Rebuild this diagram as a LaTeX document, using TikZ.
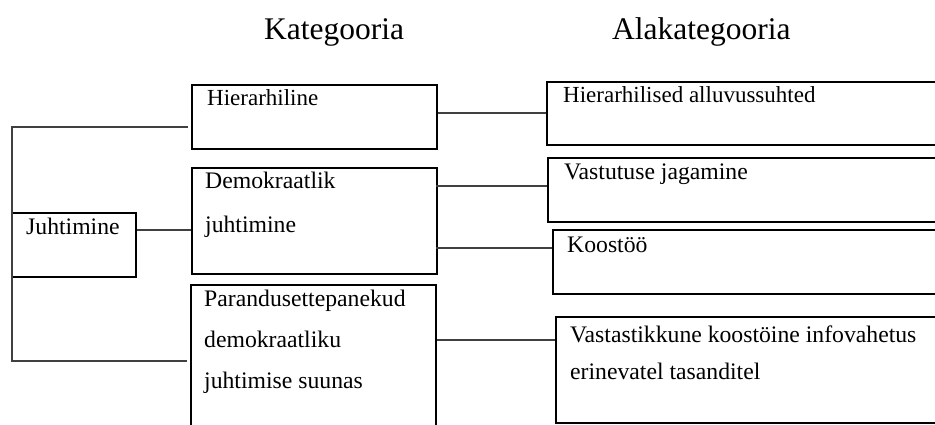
\documentclass[tikz,border=0pt]{standalone}
\usepackage{fontspec}
\setmainfont{Liberation Serif}
\begin{document}
\begin{tikzpicture}[x=1pt,y=-1pt,
  box/.style={draw=black,line width=1.8pt,rectangle,inner sep=0pt,anchor=north west},
  link/.style={draw=black!75,line width=1.2pt},
  head/.style={anchor=base west,inner sep=0pt,font=\fontsize{31.5}{36}\selectfont},
  txt/.style={anchor=base west,inner sep=0pt,font=\fontsize{23.7}{27}\selectfont},
  smalltxt/.style={txt,font=\fontsize{23}{26}\selectfont}]
\useasboundingbox (0,0) rectangle (935,425);
\clip (0,0) rectangle (935,425);

% column headings
\node[head] (hcat) at (264,40) {Kategooria};
\node[head] (hsub) at (612,40) {Alakategooria};

% root
\node[box,minimum width=124pt,minimum height=64pt] (juht) at (11,212) {};
\node[txt] (tjuht) at (26,234) {Juhtimine};

% categories
\node[box,minimum width=245pt,minimum height=64pt] (hier) at (191,84) {};
\node[smalltxt] (thier) at (207,106) {Hierarhiline};

\node[box,minimum width=245pt,minimum height=106pt] (demo) at (191,167) {};
\node[txt] (tdemo1) at (205,189) {Demokraatlik};
\node[txt] (tdemo2) at (205,233) {juhtimine};

\node[box,minimum width=245pt,minimum height=200pt] (paran) at (190,284) {};
\node[txt] (tpar1) at (204,306) {Parandusettepanekud};
\node[txt] (tpar2) at (204,347) {demokraatliku};
\node[txt] (tpar3) at (204,388) {juhtimise suunas};

% subcategories
\node[box,minimum width=420pt,minimum height=63pt] (hieral) at (546,81) {};
\node[smalltxt] (thieral) at (563,103) {Hierarhilised alluvussuhted};

\node[box,minimum width=420pt,minimum height=64pt] (vast) at (547,157) {};
\node[txt] (tvast) at (564,179) {Vastutuse jagamine};

\node[box,minimum width=420pt,minimum height=64pt] (koos) at (552,229) {};
\node[txt] (tkoos) at (567,252) {Koostöö};

\node[box,minimum width=420pt,minimum height=106pt] (info) at (555,316) {};
\node[txt] (tinfo1) at (570,342) {Vastastikkune koostöine infovahetus};
\node[txt] (tinfo2) at (570,379) {erinevatel tasanditel};

% root to categories
\coordinate (bt) at (12,127);
\coordinate (bb) at (12,361);
\draw[link] (hier.west |- bt) ++(-3,0) -- (bt) -- (bb) -- ([xshift=-3pt]paran.west |- bb);
\draw[link] (juht.east |- 0,230) -- (demo.west |- 0,230);

% categories to subcategories
\draw[link] (hier.east |- 0,113) -- (hieral.west |- 0,113);
\draw[link] ([xshift=-2pt]demo.east |- 0,186) -- (vast.west |- 0,186);
\draw[link] ([xshift=-2pt]demo.east |- 0,248) -- (koos.west |- 0,248);
\draw[link] (paran.east |- 0,340) -- (info.west |- 0,340);
\end{tikzpicture}
\end{document}
